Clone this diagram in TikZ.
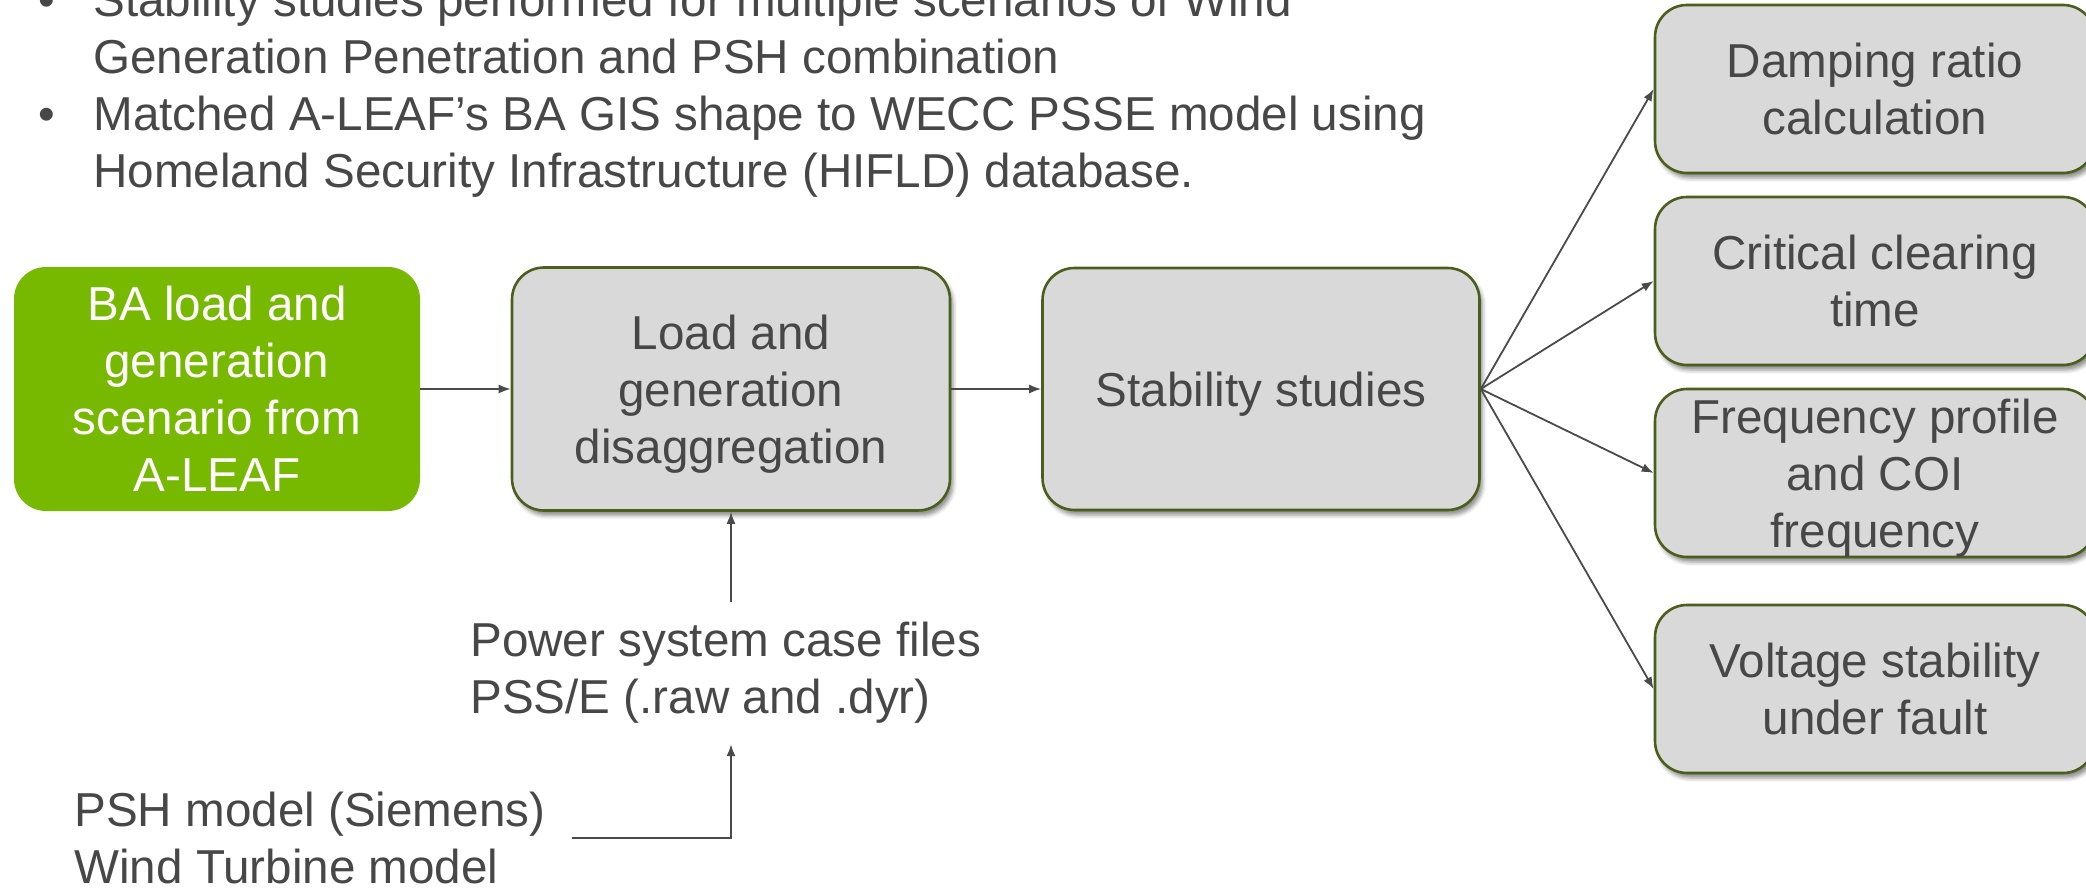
\documentclass[tikz,border=0pt]{standalone}
\usepackage{fontspec}
\setmainfont{Liberation Sans}
\usetikzlibrary{shadows.blur,arrows.meta}
\definecolor{txt}{HTML}{474747}
\definecolor{boxfill}{HTML}{D9D9D9}
\definecolor{boxdraw}{HTML}{4A5F1C}
\definecolor{aleaf}{HTML}{77B900}
\definecolor{arrowc}{HTML}{4A4A4A}
\newcommand{\nodp}[1]{\raisebox{0pt}[\height][0pt]{#1}}
\begin{document}
\begin{tikzpicture}[x=0.5pt,y=-0.5pt,
  basefont/.style={font=\fontsize{23.8pt}{28.5pt}\selectfont, text=txt},
  gbox/.style={basefont, draw=boxdraw, line width=1.3pt, fill=boxfill,
    rounded corners=16pt, align=center, inner sep=0pt,
    blur shadow={shadow xshift=1.5pt, shadow yshift=-2.5pt, shadow blur radius=2pt, shadow opacity=45}},
  greenbox/.style={basefont, text=white, fill=aleaf, rounded corners=16pt,
    align=center, inner sep=0pt},
  arr/.style={draw=arrowc, line width=0.9pt, -{Latex[length=6pt,width=4.5pt]}},
  plain/.style={basefont, align=left, inner sep=0pt}
]
\useasboundingbox (0,0) rectangle (2086,888);

% bullet text
\node[plain, anchor=north west] (bul) at (38,-18) {%
\makebox[27.5pt][l]{•}Stability studies performed for multiple scenarios of Wind\\
\hspace*{27.5pt}Generation Penetration and PSH combination\\
\makebox[27.5pt][l]{•}Matched A-LEAF’s BA GIS shape to WECC PSSE model using\\
\hspace*{27.5pt}Homeland Security Infrastructure (HIFLD) database.};

% main row
\node[greenbox, minimum width=203pt, minimum height=122pt] (green) at (217,389)
  {BA load and\\generation\\scenario from\\A-LEAF};
\node[gbox, minimum width=219pt, minimum height=121.5pt] (load) at (731,389)
  {Load and\\generation\\\nodp{disaggregation}};
\node[gbox, minimum width=218.5pt, minimum height=121pt] (stab) at (1261,389)
  {\nodp{Stability studies}};

% right column
\node[gbox, minimum width=220pt, minimum height=84pt] (damp) at (1875,89)
  {Damping ratio\\calculation};
\node[gbox, minimum width=220pt, minimum height=84pt] (cct) at (1875,281)
  {Critical clearing\\time};
\node[gbox, minimum width=220pt, minimum height=84pt] (freq) at (1875,473)
  {Frequency profile\\and COI\\\nodp{frequency}};
\node[gbox, minimum width=220pt, minimum height=84pt] (volt) at (1875,689)
  {Voltage stability\\under fault};

% lower texts
\node[plain, inner ysep=10pt, anchor=north west] (pse) at (470,602)
  {Power system case files\\PSS/E (.raw and .dyr)};
\node[plain, anchor=west] (psh) at (74,838)
  {PSH model (Siemens)\\Wind Turbine model};

% connectors
\draw[arr] (green) -- (load);
\draw[arr] (load) -- (stab);
\draw[arr] (stab.east) -- (damp.west);
\draw[arr] (stab.east) -- (cct.west);
\draw[arr] (stab.east) -- (freq.west);
\draw[arr] (stab.east) -- (volt.west);
\draw[arr] (pse.north -| load.south) -- (load.south);
\draw[arr] ([xshift=13pt]psh.east) -| (pse.south -| load.south);
\end{tikzpicture}
\end{document}
